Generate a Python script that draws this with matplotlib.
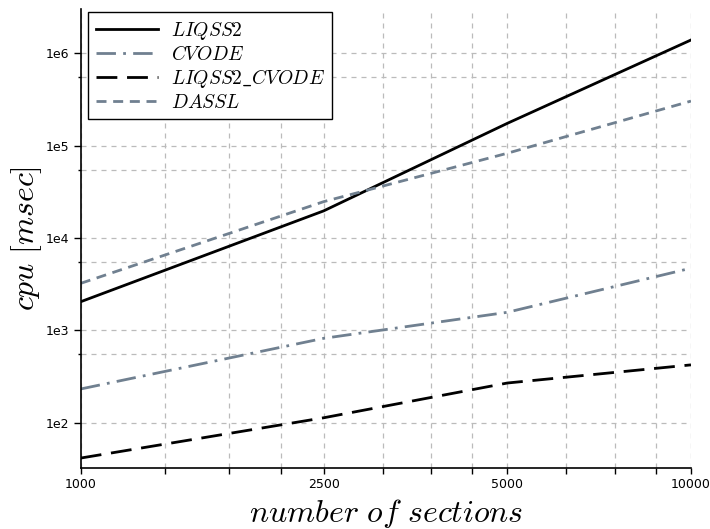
import numpy as np
import matplotlib
matplotlib.use("Agg")
import matplotlib.pyplot as plt
from matplotlib.ticker import FixedLocator, FixedFormatter, NullFormatter

plt.rcParams['mathtext.fontset'] = 'cm'

sections = [1000, 2500, 5000, 10000]
liqss2 = [2046, 19700, 175000, 1400000]
cvode = [232, 820, 1570, 4720]
liqss2_cvode = [41.4, 113, 269, 423]
dassl = [3236, 24800, 83000, 305000]

x_major = [1000, 2500, 5000, 10000]
x_major_labels = ['1000', '2500', '5000', '10000']
y_major = [1e2, 1e3, 1e4, 1e5, 1e6]
y_major_labels = ['1e2', '1e3', '1e4', '1e5', '1e6']

fig = plt.figure(figsize=(7.1, 5.29), dpi=100)
ax = fig.add_axes([0.1138, 0.1153, 0.8594, 0.8677])

slate = '#708090'
ax.plot(sections, liqss2, color='black', lw=2, label='$LIQSS2$')
ax.plot(sections, cvode, color=slate, lw=2, linestyle=(0, (7.0, 2.6, 1, 2.6)), label='$CVODE$')
ax.plot(sections, liqss2_cvode, color='black', lw=2, linestyle=(0, (7.5, 3.5)), label='$LIQSS2\\_CVODE$')
ax.plot(sections, dassl, color=slate, lw=2, linestyle=(0, (3.6, 2.4)), label='$DASSL$')

ax.set_xscale('log')
ax.set_yscale('log')
ax.set_xlim(1000, 10000)
ax.set_ylim(10 ** 1.509, 10 ** 6.482)

# minor ticks: linear subdivisions between majors
x_minor = []
for a, b in zip(x_major[:-1], x_major[1:]):
    x_minor += list(np.linspace(a, b, 5)[1:-1])
y_minor = []
for a, b in zip(y_major[:-1], y_major[1:]):
    y_minor.append((a + b) / 2)

ax.xaxis.set_major_locator(FixedLocator(x_major))
ax.xaxis.set_major_formatter(FixedFormatter(x_major_labels))
ax.xaxis.set_minor_locator(FixedLocator(x_minor))
ax.xaxis.set_minor_formatter(NullFormatter())
ax.yaxis.set_major_locator(FixedLocator(y_major))
ax.yaxis.set_major_formatter(FixedFormatter(y_major_labels))
ax.yaxis.set_minor_locator(FixedLocator(y_minor))
ax.yaxis.set_minor_formatter(NullFormatter())

ax.grid(True, which='both', color='#bbbbbb', linestyle=(0, (4, 4)), linewidth=0.9)
ax.set_axisbelow(True)

for s in ['top', 'right']:
    ax.spines[s].set_visible(False)
for s in ['left', 'bottom']:
    ax.spines[s].set_linewidth(1.2)

ax.tick_params(axis='x', which='both', length=4, width=1, labelsize=9, direction='out')
ax.tick_params(axis='y', which='major', length=5, width=1, labelsize=9)
ax.tick_params(axis='y', which='minor', length=2.5, width=1)

ax.set_xlabel('$number\\ of\\ sections$', fontsize=23, labelpad=4)
ax.set_ylabel('$cpu\\ [msec]$', fontsize=23)
ax.yaxis.set_label_coords(-0.06, 0.5)

leg = ax.legend(loc='upper left', bbox_to_anchor=(0.0118, 0.9935), borderaxespad=0,
                fontsize=14, handlelength=3.2, handletextpad=0.65, labelspacing=0.15,
                borderpad=0.4, fancybox=False, edgecolor='black', framealpha=1)
leg.get_frame().set_linewidth(1.0)

fig.savefig('out.png', dpi=100)
